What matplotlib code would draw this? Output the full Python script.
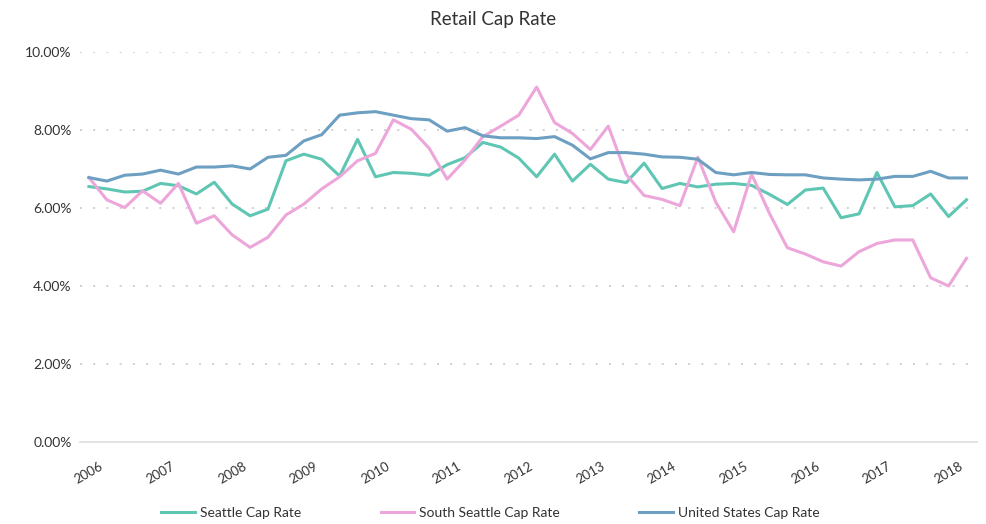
import numpy as np
import matplotlib
matplotlib.use("Agg")
import matplotlib.pyplot as plt

plt.rcParams['font.family'] = ['Lato', 'DejaVu Sans']

# quarterly cap rates (%), 2006 Q1 .. 2018 Q2
years = ["2006", "2007", "2008", "2009", "2010", "2011", "2012",
         "2013", "2014", "2015", "2016", "2017", "2018"]

seattle = [6.55, 6.49, 6.41, 6.43, 6.63, 6.57, 6.36, 6.66, 6.10, 5.80,
           5.97, 7.21, 7.38, 7.25, 6.82, 7.76, 6.80, 6.91, 6.89, 6.84,
           7.11, 7.29, 7.68, 7.56, 7.28, 6.80, 7.38, 6.69, 7.12, 6.74,
           6.65, 7.15, 6.50, 6.63, 6.54, 6.61, 6.63, 6.58, 6.35, 6.09,
           6.46, 6.51, 5.75, 5.85, 6.91, 6.03, 6.06, 6.36, 5.78, 6.21]

south_seattle = [6.78, 6.21, 6.01, 6.44, 6.12, 6.63, 5.61, 5.80, 5.31, 4.99,
                 5.25, 5.82, 6.10, 6.49, 6.80, 7.21, 7.40, 8.26, 8.02, 7.53,
                 6.74, 7.23, 7.83, 8.10, 8.38, 9.10, 8.19, 7.91, 7.50, 8.10,
                 6.86, 6.32, 6.22, 6.06, 7.30, 6.15, 5.39, 6.87, 5.86, 4.98,
                 4.82, 4.62, 4.51, 4.88, 5.09, 5.18, 5.18, 4.21, 4.00, 4.71]

united_states = [6.78, 6.69, 6.84, 6.87, 6.97, 6.87, 7.05, 7.05, 7.08, 7.00,
                 7.30, 7.35, 7.72, 7.88, 8.38, 8.44, 8.47, 8.38, 8.29, 8.26,
                 7.97, 8.06, 7.85, 7.80, 7.80, 7.78, 7.83, 7.61, 7.26, 7.42,
                 7.42, 7.38, 7.31, 7.30, 7.25, 6.91, 6.85, 6.91, 6.86, 6.85,
                 6.85, 6.77, 6.74, 6.72, 6.74, 6.81, 6.81, 6.94, 6.77, 6.77]

x = np.arange(len(seattle))

fig = plt.figure(figsize=(9.86, 5.24), dpi=100)
ax = fig.add_axes([0.0811, 0.1565, 0.91, 0.7443])

ax.plot(x, seattle, color="#5fc6b3", lw=2.2, label="Seattle Cap Rate")
ax.plot(x, south_seattle, color="#eda6da", lw=2.2, label="South Seattle Cap Rate")
ax.plot(x, united_states, color="#6c9fc1", lw=2.2, label="United States Cap Rate")

ax.set_xlim(-0.5, 49.6)
ax.set_ylim(0, 10)

ax.set_yticks(np.arange(0, 11, 2))
ax.set_yticklabels(["%.2f%%" % v for v in np.arange(0, 11, 2)])
ax.set_xticks(np.arange(0, 49, 4))
ax.set_xticklabels(years)
plt.setp(ax.get_xticklabels(), rotation=30, ha="center")

ax.tick_params(axis="both", length=0, colors="#333333", labelsize=10)
ax.tick_params(axis="y", pad=6)
ax.tick_params(axis="x", pad=13, labelsize=9.5)

# dotted grid, solid base line
for v in [2, 4, 6, 8, 10]:
    ax.axhline(v, color="#d0d0d0", lw=1.4, dashes=(1, 5.8), zorder=0)
for name, spine in ax.spines.items():
    spine.set_visible(False)
ax.spines["bottom"].set_visible(True)
ax.spines["bottom"].set_color("#dedede")
ax.spines["bottom"].set_linewidth(1.2)

fig.suptitle("Retail Cap Rate", x=0.5, y=0.962, va="center",
             fontsize=13.5, color="#333333")

fig.legend(loc="center", bbox_to_anchor=(0.4975, 0.021), ncol=3,
           frameon=False, fontsize=10, handlelength=2.4, handletextpad=0.4,
           columnspacing=5.7, labelcolor="#333333")

fig.savefig("out.png", dpi=100)
